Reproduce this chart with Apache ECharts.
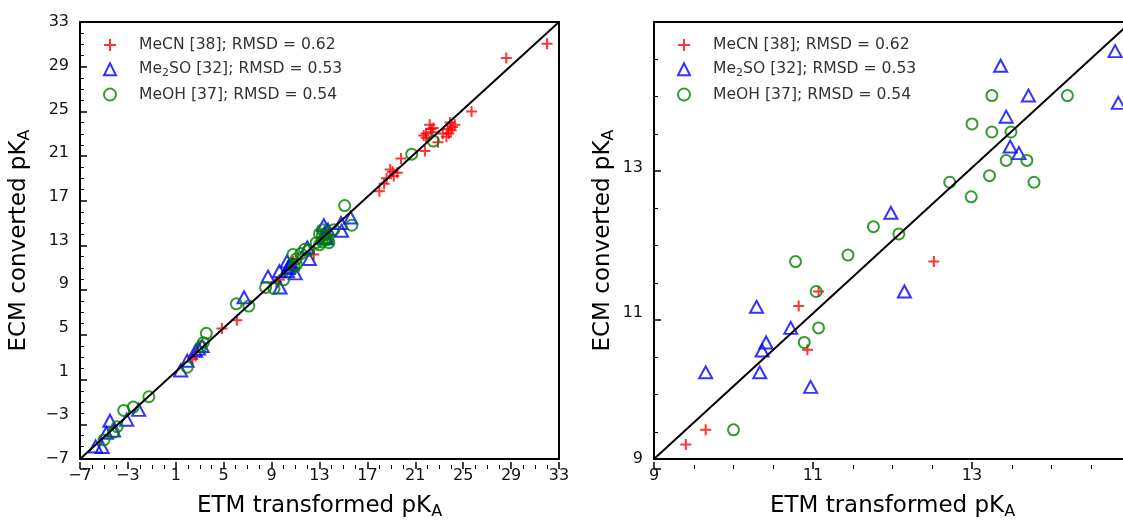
<!DOCTYPE html>
<html><head><meta charset="utf-8">
<script src="https://cdn.jsdelivr.net/npm/echarts@6/dist/echarts.min.js"></script>
<style>html,body{margin:0;padding:0;overflow:hidden;background:#fff}#c{width:1140px;height:525px}</style>
</head><body><div id="c"></div><script>
// ---- data ----
const seriesNames = ['MeCN [38]; RMSD = 0.62', 'Me2SO [32]; RMSD = 0.53', 'MeOH [37]; RMSD = 0.54'];
const mecn = [
  [32.0,31.0],[28.6,29.7],[25.7,24.8],[24.3,23.6],[24.0,23.1],[23.9,23.8],[23.6,22.5],[23.7,23.2],
  [22.9,22.0],[22.4,22.9],[22.2,23.6],[21.7,22.6],[21.9,22.4],[21.8,21.2],[22.3,23.2],[19.8,20.5],
  [19.5,19.2],[18.9,19.5],[18.6,18.7],[18.4,18.2],[18.0,17.5],[19.1,19.3],[22.5,23.3],[24.1,23.4],
  [23.3,22.8],[21.9,22.8],[19.2,18.9],[23.8,22.8],
  [6.1,5.7],[4.85,4.95],[2.65,2.45],[2.4,2.15],
  [9.4,9.2],[9.65,9.4],[10.82,11.1],[10.93,10.5],[11.07,11.3],[12.52,11.71]
];
const me2so = [
  [-5.7,-5.85],[-5.15,-5.9],[-4.8,-4.6],[-4.5,-3.5],[-4.2,-4.4],[-3.1,-3.4],[-2.1,-2.5],[1.4,1.1],
  [1.95,2.0],[2.65,2.9],[2.9,3.1],[3.2,3.35],[6.7,7.8],[8.7,9.7],[9.7,8.7],[15.6,15.1],
  [9.65,10.19],[10.29,11.09],[10.33,10.19],[10.36,10.49],[10.41,10.6],[10.72,10.8],[10.97,9.99],[12.15,11.3],
  [11.98,12.38],[13.36,14.4],[13.43,13.7],[13.71,13.99],[13.48,13.29],[13.59,13.2],[14.8,14.6],[14.84,13.89]
];
const meoh = [
  [-5.0,-5.25],[-4.2,-4.55],[-3.9,-4.05],[-3.35,-2.55],[-2.55,-2.25],[-1.25,-1.3],[1.95,1.4],[3.1,3.3],
  [3.3,3.65],[3.55,4.5],[6.05,7.2],[7.1,7.0],[8.5,8.7],[9.2,8.6],[15.1,16.2],[15.7,14.4],[20.7,20.9],[22.5,22.1],
  [10.0,9.4],[10.78,11.71],[10.89,10.6],[11.04,11.3],[11.07,10.8],[11.44,11.8],[11.76,12.19],[12.08,12.09],
  [12.72,12.8],[12.99,12.6],[13.22,12.89],[13.0,13.6],[13.25,13.99],[13.25,13.49],[13.49,13.49],[13.43,13.1],
  [13.69,13.1],[13.78,12.8],[14.2,13.99]
];
const leftTicks = [-7,-3,1,5,9,13,17,21,25,29,33];
const rightTicks = [9,11,13,15];
const xTitle = 'ETM transformed pK{s|A}';
const yTitle = 'ECM converted pK{s|A}';

// ---- chart ----
const FONT = 'DejaVu Sans';
const plusPath = 'path://M0,5L10,5M5,0L5,10';
const styles = [
  {symbol: plusPath, symbolSize: 11, itemStyle: {color: 'rgba(0,0,0,0)', borderColor: '#ff0000', borderWidth: 2}},
  {symbol: 'triangle', symbolSize: [13, 12], itemStyle: {color: 'rgba(0,0,0,0)', borderColor: '#0000ff', borderWidth: 2}},
  {symbol: 'circle', symbolSize: 11, itemStyle: {color: 'rgba(0,0,0,0)', borderColor: '#008000', borderWidth: 2}}
];
const datasets = [mecn, me2so, meoh];
const panels = [
  {left: 80, top: 22, width: 479, height: 447, ticks: leftTicks},
  {left: 654, top: 22, width: 477, height: 447, ticks: rightTicks}
];
const fmt = v => String(v).replace('-', '\u2212');
const nameStyle = {fontFamily: FONT, fontSize: 23, color: '#000',
  rich: {s: {fontFamily: FONT, fontSize: 16, color: '#000', padding: [12, 0, 0, 0]}}};

function range(ticks) {
  return {min: ticks[0], max: ticks[ticks.length - 1], interval: ticks[1] - ticks[0]};
}
function axis(idx, ticks, isX, gap) {
  return Object.assign({
    gridIndex: idx, type: 'value',
    splitLine: {show: false},
    axisLine: {show: true, onZero: false, lineStyle: {color: '#000', width: 2}},
    axisTick: {show: false},
    axisLabel: {fontFamily: FONT, fontSize: 16, color: '#111', margin: isX ? 9 : 11, formatter: fmt,
      showMaxLabel: idx === 0},
    name: isX ? xTitle : yTitle, nameLocation: 'middle', nameGap: gap, nameTextStyle: nameStyle
  }, range(ticks));
}
function frameAxis(idx, ticks, pos) {
  return {
    gridIndex: idx, type: 'value', position: pos, min: ticks[0], max: ticks[ticks.length - 1],
    splitLine: {show: false}, axisTick: {show: false}, axisLabel: {show: false},
    axisLine: {show: true, onZero: false, lineStyle: {color: '#000', width: 2}}
  };
}
function hiddenAxis(idx) {
  return {gridIndex: idx, type: 'value', show: false, min: 0, max: 1, splitLine: {show: false}};
}
// tick-mark axis: its split lines, drawn inside a thin strip grid, become the inward ticks
function tickAxis(idx, ticks, minor) {
  return Object.assign({
    gridIndex: idx, type: 'value',
    axisLine: {show: false}, axisTick: {show: false}, axisLabel: {show: false},
    splitLine: {show: !minor, lineStyle: {color: '#000', width: 1.5}},
    minorTick: {show: false, splitNumber: 4},
    minorSplitLine: {show: minor, lineStyle: {color: '#000', width: 1}}
  }, range(ticks));
}

const grids = panels.map(p => ({left: p.left, top: p.top, width: p.width, height: p.height, show: false}));
const xAxes = [axis(0, leftTicks, true, 33), axis(1, rightTicks, true, 33),
               frameAxis(0, leftTicks, 'top'), frameAxis(1, rightTicks, 'top')];
const yAxes = [axis(0, leftTicks, false, 47), axis(1, rightTicks, false, 37),
               frameAxis(0, leftTicks, 'right'), frameAxis(1, rightTicks, 'right')];
panels.forEach(p => {
  [[7, false], [4, true]].forEach(([len, minor]) => {
    // bottom strip (x ticks)
    let gi = grids.length;
    grids.push({left: p.left, top: p.top + p.height - len, width: p.width, height: len, show: false});
    xAxes.push(tickAxis(gi, p.ticks, minor));
    yAxes.push(hiddenAxis(gi));
    // left strip (y ticks)
    gi = grids.length;
    grids.push({left: p.left, top: p.top, width: len, height: p.height, show: false});
    yAxes.push(tickAxis(gi, p.ticks, minor));
    xAxes.push(hiddenAxis(gi));
  });
});

const series = [];
[0, 1].forEach(g => {
  datasets.forEach((d, i) => {
    series.push(Object.assign({type: 'scatter', name: seriesNames[i], xAxisIndex: g, yAxisIndex: g,
      data: d, clip: true, z: 2}, styles[i]));
  });
  const t = panels[g].ticks;
  series.push({type: 'line', name: 'diag', xAxisIndex: g, yAxisIndex: g, z: 3, silent: true,
    data: [[t[0], t[0]], [t[t.length - 1], t[t.length - 1]]], symbol: 'none',
    lineStyle: {color: '#000', width: 2}});
});

function legend(left) {
  return {
    left: left, top: 37, orient: 'vertical', padding: 0, itemWidth: 12, itemHeight: 12, itemGap: 8.3,
    data: seriesNames.map((n, i) => ({name: n, icon: styles[i].symbol, itemStyle: styles[i].itemStyle})),
    formatter: n => '{g|}' + n.replace('Me2SO', 'Me{s|2}SO'),
    textStyle: {fontFamily: FONT, fontSize: 15.6, color: '#333',
      rich: {g: {width: 18}, s: {fontFamily: FONT, fontSize: 11, color: '#333', padding: [7, 0, 0, 0]}}}
  };
}

const chart = echarts.init(document.getElementById('c'));
chart.setOption({
  animation: false,
  grid: grids,
  xAxis: xAxes,
  yAxis: yAxes,
  legend: [legend(103), legend(677)],
  series: series
});
</script></body></html>
